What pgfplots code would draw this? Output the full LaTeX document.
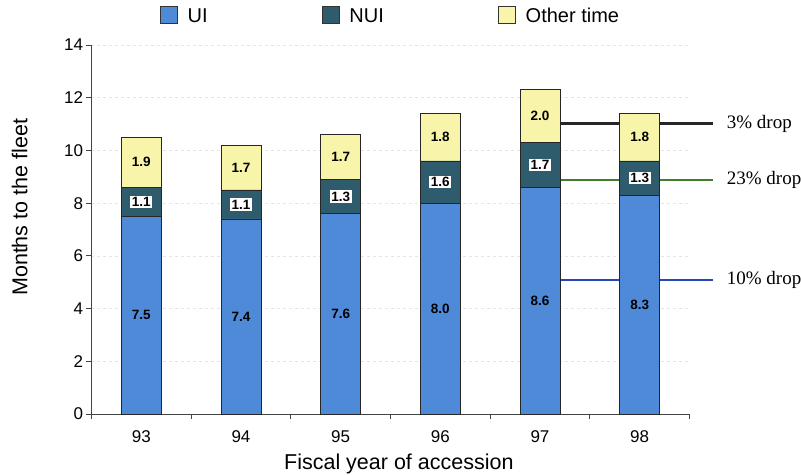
\documentclass[border=0pt]{standalone}
\usepackage{pgfplots}
\pgfplotsset{compat=1.18}
\usepackage{fontspec}
\setmainfont{Liberation Sans}
\newfontfamily\timesfont{Liberation Serif}
\definecolor{uiblue}{HTML}{4F8AD9}
\definecolor{nuiteal}{HTML}{2F5C6C}
\definecolor{othery}{HTML}{F8F4AA}
\definecolor{dropgreen}{HTML}{3F7F2F}
\definecolor{linkblue}{RGB}{40,70,185}
\definecolor{axisgray}{HTML}{444444}

\pgfplotsset{common/.style={scale only axis, width=598pt, height=369pt,
  xmin=-0.5, xmax=5.5, ymin=0, ymax=14, clip=false}}

\begin{document}
\begin{tikzpicture}
% annotation lines (behind the bars)
\begin{axis}[common, hide axis]
\addplot[draw=linkblue, line width=2pt, mark=none] coordinates {(4.2,5.10) (5.74,5.10)};
\addplot[draw=dropgreen, line width=1.8pt, mark=none] coordinates {(4.2,8.87) (5.74,8.87)};
\addplot[draw=black!85, line width=2.4pt, mark=none] coordinates {(4.2,11.02) (5.74,11.02)};
\node[anchor=west, font=\timesfont\fontsize{19}{22}\selectfont] at (axis cs:5.84,11.02) {3\% drop};
\node[anchor=west, font=\timesfont\fontsize{19}{22}\selectfont] at (axis cs:5.84,8.87) {23\% drop};
\node[anchor=west, font=\timesfont\fontsize{19}{22}\selectfont] at (axis cs:5.84,5.10) {10\% drop};
\coordinate (bbsw) at (rel axis cs:-0.153,-0.1626);
\coordinate (bbne) at (rel axis cs:1.1865,1.122);
\end{axis}
\begin{axis}[common,
  ybar stacked, bar width=0.4,
  axis x line*=bottom, axis y line*=left,
  axis line style={axisgray, line width=0.8pt},
  tick style={axisgray, line width=0.8pt},
  tick align=outside,
  ytick={0,2,...,14},
  xtick={0,...,5}, xticklabels={93,94,95,96,97,98},
  major x tick style={draw=none},
  minor xtick={-0.5,0.5,...,5.5},
  minor tick length=5pt, major tick length=5pt,
  ymajorgrids, grid style={gray!20, dashed, line width=0.6pt},
  tick label style={font=\fontsize{17}{20}\selectfont},
  xticklabel style={yshift=-8pt},
  /pgf/number format/assume math mode=true,
  xlabel={Fiscal year of accession},
  ylabel={Months to the fleet},
  label style={font=\fontsize{21.5}{25}\selectfont},
  xlabel style={at={(axis description cs:0.514,-0.135)}, anchor=center},
  ylabel style={at={(axis description cs:-0.12,0.56)}, anchor=center},
  legend columns=3,
  legend style={at={(axis description cs:0.5,1.112)}, anchor=north,
    draw=none, fill=none, font=\fontsize{20}{24}\selectfont,
    /tikz/every odd column/.append style={column sep=8pt},
    /tikz/every even column/.append style={column sep=112pt}},
  legend image code/.code={\draw[#1, draw=black!80, line width=0.8pt] (0pt,-7pt) rectangle (17pt,10pt);},
  visualization depends on=rawy \as \rawy,
  nodes near coords={\pgfmathprintnumber[fixed,fixed zerofill,precision=1]{\rawy}},
  every node near coord/.append style={anchor=center,
    font=\bfseries\fontsize{13.5}{16}\selectfont, text=black, inner sep=1.5pt},
]
\addplot[fill=uiblue, draw=black!85, line width=0.8pt] coordinates {(0,7.5) (1,7.4) (2,7.6) (3,8.0) (4,8.6) (5,8.3)};
\addplot[fill=nuiteal, draw=black!85, line width=0.8pt,
  every node near coord/.append style={fill=white}] coordinates {(0,1.1) (1,1.1) (2,1.3) (3,1.6) (4,1.7) (5,1.3)};
\addplot[fill=othery, draw=black!85, line width=0.8pt] coordinates {(0,1.9) (1,1.7) (2,1.7) (3,1.8) (4,2.0) (5,1.8)};
\legend{UI, NUI, Other time}
\end{axis}
\pgfresetboundingbox
\path (bbsw) rectangle (bbne);
\end{tikzpicture}
\end{document}
